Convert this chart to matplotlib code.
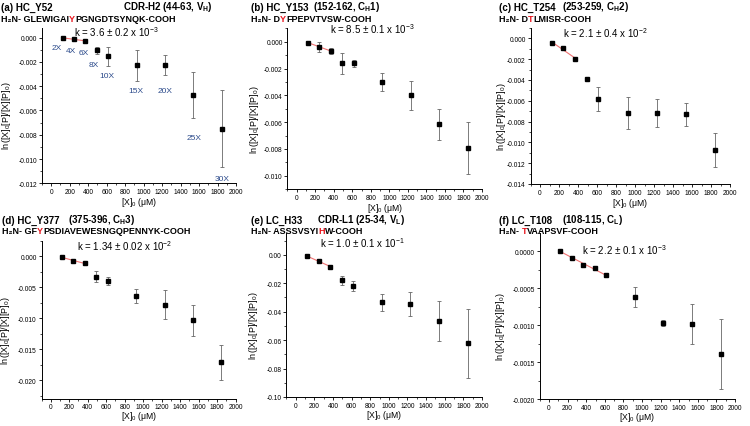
import numpy as np
import matplotlib
matplotlib.use("Agg")
import matplotlib.pyplot as plt
from matplotlib.ticker import MultipleLocator, FuncFormatter

plt.rcParams['font.family'] = ['Liberation Sans', 'DejaVu Sans']
plt.rcParams['mathtext.fontset'] = 'custom'
plt.rcParams['mathtext.rm'] = 'Liberation Sans'
plt.rcParams['mathtext.it'] = 'Liberation Sans:italic'
plt.rcParams['mathtext.bf'] = 'Liberation Sans:bold'

W, H = 750, 427

# concentrations of X (uM), same for every panel
conc = [123, 246, 369, 492, 615, 923, 1231, 1538, 1846]
folds = ['2X', '4X', '6X', '8X', '10X', '15X', '20X', '25X', '30X']

a_y = [-0.00003, -0.00014, -0.00028, -0.00105, -0.00155, -0.00229, -0.00224, -0.00472, -0.00749]
a_e = [0.00003, 0.00003, 0.00005, 0.0003, 0.0008, 0.00127, 0.00083, 0.00188, 0.0032]
b_y = [-0.000075, -0.00038, -0.0007, -0.0016, -0.0016, -0.0030, -0.0040, -0.00615, -0.00793]
b_e = [0.00005, 0.00036, 0.0002, 0.00078, 0.00026, 0.00065, 0.00107, 0.00115, 0.00193]
c_y = [-0.00042, -0.00096, -0.00198, -0.00393, -0.00581, -0.00719, -0.00722, -0.00732, -0.0107]
c_e = [0.00005, 0.0001, 0.0001, 0.00005, 0.00113, 0.00152, 0.00134, 0.00107, 0.00163]
d_y = [-0.00016, -0.00073, -0.00115, -0.0033, -0.0040, -0.0064, -0.0078, -0.0103, -0.0171]
d_e = [0.0001, 0.0001, 0.0002, 0.0009, 0.0007, 0.0011, 0.0023, 0.0025, 0.0028]
e_y = [-0.0012, -0.0042, -0.0084, -0.018, -0.0218, -0.0335, -0.0347, -0.0466, -0.0623]
e_e = [0.0003, 0.001, 0.0008, 0.003, 0.0036, 0.0059, 0.0082, 0.014, 0.024]
f_y = [0.0, -0.00009, -0.00019, -0.00023, -0.00033, -0.00062, -0.00097, -0.00099, -0.00139]
f_e = [0.000005, 0.000005, 0.00001, 0.00001, 0.00002, 0.00014, 0.00004, 0.00027, 0.00047]

n_fit = [3, 3, 3, 3, 3, 5]
k_text = ['3.6 \u00b1 0.2 x 10$^{-3}$', '8.5 \u00b1 0.1 x 10$^{-3}$', '2.1 \u00b1 0.4 x 10$^{-2}$',
          '1.34 \u00b1 0.02 x 10$^{-2}$', '1.0 \u00b1 0.1 x 10$^{-1}$', '2.2 \u00b1 0.1 x 10$^{-3}$']
names = ['(a) HC_Y52', '(b) HC_Y153', '(c) HC_T254', '(d) HC_Y377', '(e) LC_H33', '(f) LC_T108']
regions = ['CDR-H2 (44-63, V$_\\mathbf{H}$)', '(152-162, C$_\\mathbf{H}$1)', '(253-259, C$_\\mathbf{H}$2)',
           '(375-396, C$_\\mathbf{H}$3)', 'CDR-L1 (25-34, V$_\\mathbf{L}$)', '(108-115, C$_\\mathbf{L}$)']
seqs = [('GLEWIGAI', 'Y', 'PGNGDTSYNQK'), ('D', 'Y', 'FPEPVTVSW'), ('D', 'T', 'LMISR'),
        ('GF', 'Y', 'PSDIAVEWESNGQPENNYK'), ('ASSSVSYI', 'H', 'W'), ('', 'T', 'VAAPSVF')]

ys = [a_y, b_y, c_y, d_y, e_y, f_y]
es = [a_e, b_e, c_e, d_e, e_e, f_e]

# layout in pixels: left, top, right, bottom of each axes
boxes = [(42, 28.8, 236, 184.3), (287.4, 29.3, 482, 190.1), (530.5, 28.9, 730, 185),
         (41.5, 241.8, 235.7, 399.7), (286.4, 234.4, 482, 398), (539.7, 233.5, 735, 400.3)]
ylims = [(-0.012, 0.0008), (-0.011, 0.001), (-0.014, 0.001), (-0.023, 0.0025), (-0.10, 0.015), (-0.002, 0.00025)]
ysteps = [0.002, 0.002, 0.002, 0.005, 0.02, 0.0005]
ydec = [3, 3, 3, 3, 2, 4]
kpos = [(244, 0.00053), (360, 0.00098), (245, 0.00058), (281, 0.00187), (261, 0.0092), (352, 0.000031)]
title_x = [(1, 123), (251, 313), (499, 562), (2, 68), (251, 317), (499, 562)]
title_y = [(7.5, 19), (7.5, 19), (7.5, 19), (220.5, 232), (220.5, 232), (220.5, 232)]
ylab_x = [12.5, 261, 508, 12.5, 260, 507]       # right edge of the rotated label
xlab_y = [202.5, 208.5, 203.5, 416.5, 416, 417.5]  # centre of the x label

# where the fold labels sit in panel (a)
fold_pos = [(54, -0.00085), (209, -0.00107), (349, -0.0012), (465, -0.00225), (598, -0.00312),
            (915, -0.00433), (1236, -0.00433), (1541, -0.00826), (1855, -0.01163)]

fig = plt.figure(figsize=(W / 100, H / 100), dpi=100)
rend = fig.canvas.get_renderer()


def text_w(s, size):
    t = fig.text(0, 0, s, fontsize=size, fontweight='bold')
    w = t.get_window_extent(rend).width
    t.remove()
    return w


def draw_seq(xpx, ypx, pre, red, post, size):
    # three pieces, each placed where it falls in the full line
    head = 'H\u2082N- ' + pre
    tail = post + '-COOH'
    yy = 1 - ypx / H
    fig.text(xpx / W, yy, head, fontsize=size, fontweight='bold', va='center', ha='left')
    xr = xpx + text_w(head + red, size)
    fig.text(xr / W, yy, red, color='#e8141c', fontsize=size,
             fontweight='bold', va='center', ha='right')
    xe = xpx + text_w(head + red + tail, size)
    fig.text(xe / W, yy, tail, fontsize=size, fontweight='bold', va='center', ha='right')


def fmt(dec):
    def f(v, pos):
        if abs(v) < 1e-12:
            v = 0.0
        return '%.*f' % (dec, v)
    return FuncFormatter(f)


for i in range(6):
    l, t, r, b = boxes[i]
    ax = fig.add_axes([l / W, 1 - b / H, (r - l) / W, (b - t) / H])
    x = np.array(conc)
    y = np.array(ys[i])
    ax.errorbar(x, y, yerr=es[i], fmt='none', ecolor='#666666', elinewidth=0.6,
                capsize=1.3, capthick=0.6, zorder=2)
    ax.plot(x, y, 's', color='black', markersize=2.8, zorder=3)
    n = n_fit[i]
    p = np.polyfit(x[:n], y[:n], 1)
    ax.plot(x[:n], np.polyval(p, x[:n]), color='#f07272', lw=0.8, zorder=2.5)
    ax.text(kpos[i][0], kpos[i][1], 'k = ' + k_text[i], fontsize=7, va='center', ha='left')

    ax.set_xlim(-100, 2000)
    ax.set_ylim(*ylims[i])
    ax.xaxis.set_major_locator(MultipleLocator(200))
    ax.xaxis.set_minor_locator(MultipleLocator(100))
    ax.yaxis.set_major_locator(MultipleLocator(ysteps[i]))
    ax.yaxis.set_minor_locator(MultipleLocator(ysteps[i] / 2))
    ax.yaxis.set_major_formatter(fmt(ydec[i]))
    for s in ['top', 'right']:
        ax.spines[s].set_visible(False)
    for s in ['left', 'bottom']:
        ax.spines[s].set_linewidth(0.7)
    ax.tick_params(which='major', direction='out', length=2.2, width=0.6, labelsize=4.8, pad=1.2)
    ax.tick_params(which='minor', direction='out', length=1.3, width=0.5)

    ax.set_ylabel('ln([X]$_0$[P]/[X][P]$_0$)', fontsize=6.5)
    ax.yaxis.set_label_coords((ylab_x[i] - l) / (r - l), 0.44)
    ax.set_xlabel('[X]$_0$ (\u03bcM)', fontsize=6.2)
    ax.xaxis.label.set_verticalalignment('center')
    ax.xaxis.set_label_coords(0.5, (b - xlab_y[i]) / (b - t))

    if i == 0:
        for lab, (lx, ly) in zip(folds, fold_pos):
            ax.text(lx, ly, lab, fontsize=6, color='#2b4a8b', ha='center', va='center')

    # titles
    fig.text(title_x[i][0] / W, 1 - title_y[i][0] / H, names[i], fontsize=7,
             fontweight='bold', va='center', ha='left')
    fig.text(title_x[i][1] / W, 1 - title_y[i][0] / H, regions[i], fontsize=7,
             fontweight='bold', va='center', ha='left')
    pre, red, post = seqs[i]
    draw_seq(title_x[i][0], title_y[i][1], pre, red, post, 6.5)

fig.savefig('out.png', dpi=100)
